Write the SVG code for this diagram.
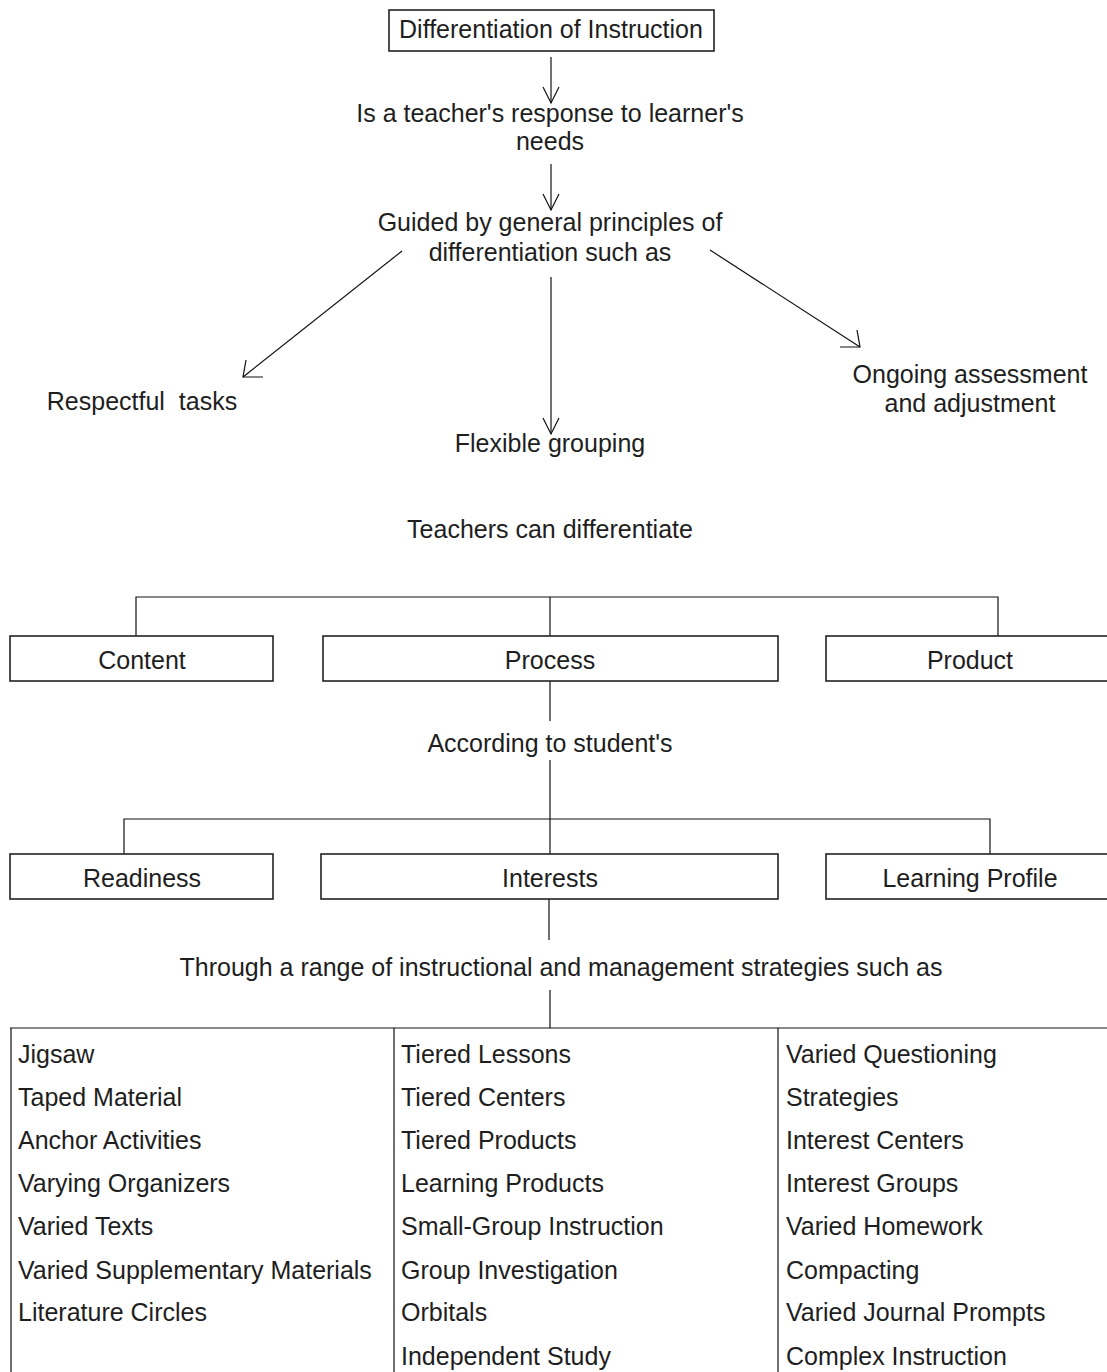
<svg xmlns="http://www.w3.org/2000/svg" width="1107" height="1372" viewBox="0 0 1107 1372">
<style>
text{font-family:"Liberation Sans",Arial,sans-serif;font-size:25px;fill:#1e1e1e}
.c{text-anchor:middle}
.ln{stroke:#111;stroke-width:1.2;fill:none}
.box{fill:#fff;stroke:#222;stroke-width:1.6}
.pre{white-space:pre}
</style>
<defs>
<marker id="v" markerUnits="userSpaceOnUse" markerWidth="20" markerHeight="20" refX="0" refY="0" orient="auto" overflow="visible">
<path d="M-16,-8 L0,0 L-16,8" fill="none" stroke="#111" stroke-width="1.2"/>
</marker>
</defs>
<rect width="1107" height="1372" fill="#fff"/>
<g id="connectors">
<line class="ln" x1="551" y1="57" x2="551" y2="103" marker-end="url(#v)"/>
<line class="ln" x1="551" y1="164" x2="551" y2="210" marker-end="url(#v)"/>
<line class="ln" x1="551" y1="277" x2="551" y2="434" marker-end="url(#v)"/>
<line class="ln" x1="402" y1="251" x2="243" y2="377"/>
<path class="ln" d="M246,360 L243,377 L263,377"/>
<line class="ln" x1="710" y1="250" x2="860" y2="347"/>
<path class="ln" d="M857,330 L860,347 L840,347"/>
<path class="ln" d="M136,636 V597 H998 V636 M550,597 V636"/>
<path class="ln" d="M550,681 V721 M550,760 V819 M124,854 V819 H990 V854 M550,819 V854"/>
<path class="ln" d="M549,899 V940 M550,990 V1028"/>
<path class="ln" d="M10,1028 H1107 M11,1028 V1372 M394,1028 V1372 M778,1028 V1372"/>
</g>
<g id="n-title">
<rect class="box" x="389" y="10" width="325" height="41"/>
<text class="c" x="551" y="38">Differentiation of Instruction</text>
</g>
<g id="n-response">
<text class="c" x="550" y="122">Is a teacher's response to learner's</text>
<text class="c" x="550" y="150">needs</text>
</g>
<g id="n-guided">
<text class="c" x="550" y="231">Guided by general principles of</text>
<text class="c" x="550" y="261">differentiation such as</text>
</g>
<g id="n-respectful"><text class="c pre" x="142" y="410">Respectful  tasks</text></g>
<g id="n-flexible"><text class="c" x="550" y="452">Flexible grouping</text></g>
<g id="n-ongoing">
<text class="c" x="970" y="383">Ongoing assessment</text>
<text class="c" x="970" y="412">and adjustment</text>
</g>
<g id="n-teachers"><text class="c" x="550" y="538">Teachers can differentiate</text></g>
<g id="n-content"><rect class="box" x="10" y="636" width="263" height="45"/><text class="c" x="142" y="669">Content</text></g>
<g id="n-process"><rect class="box" x="323" y="636" width="455" height="45"/><text class="c" x="550" y="669">Process</text></g>
<g id="n-product"><rect class="box" x="826" y="636" width="290" height="45"/><text class="c" x="970" y="669">Product</text></g>
<g id="n-according"><text class="c" x="550" y="752">According to student's</text></g>
<g id="n-readiness"><rect class="box" x="10" y="854" width="263" height="45"/><text class="c" x="142" y="887">Readiness</text></g>
<g id="n-interests"><rect class="box" x="321" y="854" width="457" height="45"/><text class="c" x="550" y="887">Interests</text></g>
<g id="n-profile"><rect class="box" x="826" y="854" width="290" height="45"/><text class="c" x="970" y="887">Learning Profile</text></g>
<g id="n-through"><text class="c" x="561" y="976">Through a range of instructional and management strategies such as</text></g>
<g id="n-col1">
<text x="18" y="1063">Jigsaw</text>
<text x="18" y="1106">Taped Material</text>
<text x="18" y="1149">Anchor Activities</text>
<text x="18" y="1192">Varying Organizers</text>
<text x="18" y="1235">Varied Texts</text>
<text x="18" y="1279">Varied Supplementary Materials</text>
<text x="18" y="1321">Literature Circles</text>
</g>
<g id="n-col2">
<text x="401" y="1063">Tiered Lessons</text>
<text x="401" y="1106">Tiered Centers</text>
<text x="401" y="1149">Tiered Products</text>
<text x="401" y="1192">Learning Products</text>
<text x="401" y="1235">Small-Group Instruction</text>
<text x="401" y="1279">Group Investigation</text>
<text x="401" y="1321">Orbitals</text>
<text x="401" y="1365">Independent Study</text>
</g>
<g id="n-col3">
<text x="786" y="1063">Varied Questioning</text>
<text x="786" y="1106">Strategies</text>
<text x="786" y="1149">Interest Centers</text>
<text x="786" y="1192">Interest Groups</text>
<text x="786" y="1235">Varied Homework</text>
<text x="786" y="1279">Compacting</text>
<text x="786" y="1321">Varied Journal Prompts</text>
<text x="786" y="1365">Complex Instruction</text>
</g>
</svg>
